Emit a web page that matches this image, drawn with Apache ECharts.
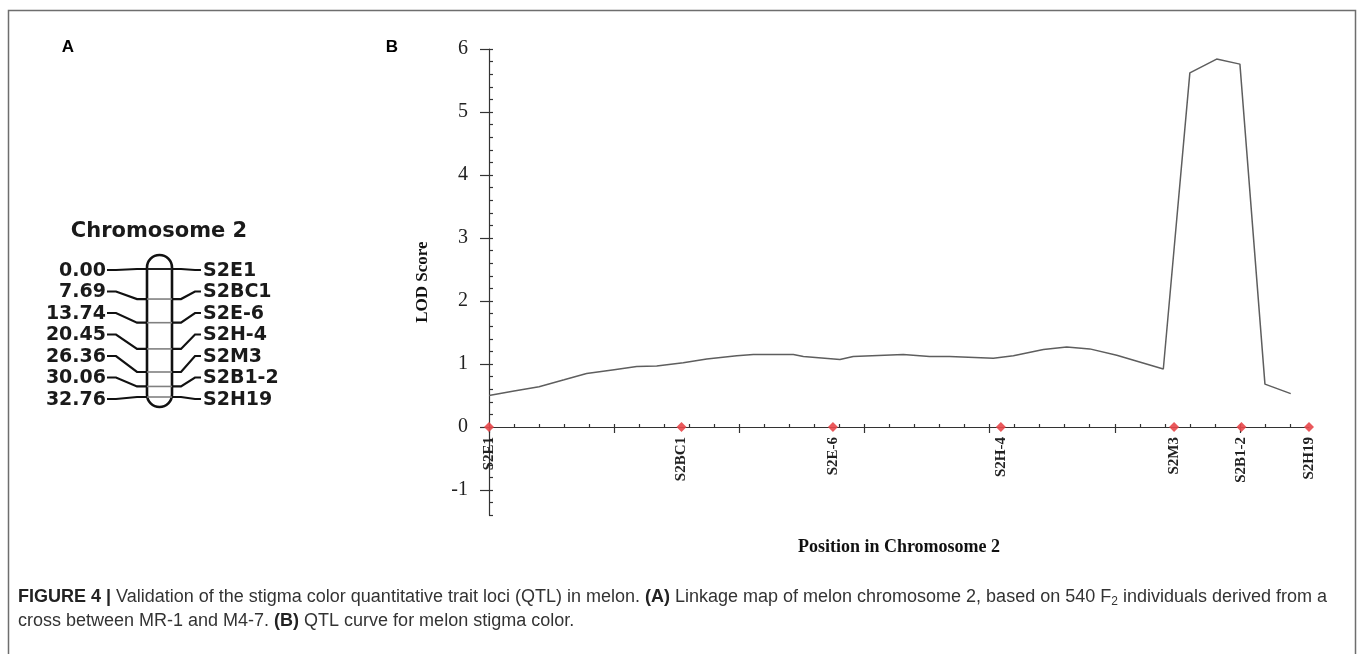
<!DOCTYPE html>
<html><head><meta charset="utf-8">
<script src="https://cdn.jsdelivr.net/npm/echarts@6/dist/echarts.min.js"></script>
<style>html,body{margin:0;padding:0;background:#fff}#c{width:1358px;height:654px}</style>
</head><body><div id="c"></div>
<script>
// ---- data ----
const markerNames = ['S2E1', 'S2BC1', 'S2E-6', 'S2H-4', 'S2M3', 'S2B1-2', 'S2H19'];
const mapPositions = [0.00, 7.69, 13.74, 20.45, 26.36, 30.06, 32.76];       // panel A (cM)
const qtlMarkerPositions = [0, 7.69, 13.74, 20.45, 27.37, 30.06, 32.76];    // panel B marker diamonds (cM)
const lodPositions = [0, 1.0, 2.0, 3.0, 3.9, 5.0, 5.9, 6.7, 7.76, 8.7, 9.9, 10.56, 12.16, 12.56, 14.02, 14.55, 16.55, 17.6, 18.4, 20.15, 20.95, 22.15, 23.08, 24.0, 25.08, 26.94, 28.0, 29.07, 30.0, 31.0, 32.03];
const lodScores    = [0.50, 0.57, 0.64, 0.75, 0.85, 0.91, 0.96, 0.97, 1.02, 1.08, 1.13, 1.15, 1.15, 1.12, 1.07, 1.12, 1.15, 1.12, 1.12, 1.09, 1.13, 1.23, 1.27, 1.24, 1.14, 0.92, 5.62, 5.84, 5.76, 0.68, 0.53];
const yMajorTicks = [-1, 0, 1, 2, 3, 4, 5, 6];
const xMajorTicks = [0, 5, 10, 15, 20, 25, 30];
const yMinorTicks = [];
for (let v = -14; v <= 60; v += 2) yMinorTicks.push(v / 10);
const xMinorTicks = [];
for (let v = 0; v <= 32; v++) xMinorTicks.push(v);

const chart = echarts.init(document.getElementById('c'), null, {renderer: 'canvas'});
const serif = "'Liberation Serif', 'Times New Roman', serif";
const sans = "'Liberation Sans', Arial, sans-serif";
const mapFont = "'DejaVu Sans', Verdana, sans-serif";
const LABEL_TOP = 270, LABEL_STEP = 21.5;

function nameAt(v) {
  const i = qtlMarkerPositions.findIndex(p => Math.abs(p - v) < 1e-6);
  return i >= 0 ? markerNames[i] : '';
}

const option = {
  animation: false,
  backgroundColor: '#ffffff',
  grid: [
    {left: 489, right: 49, top: 49, bottom: 138.8},
    {left: 147, width: 25, top: 269, height: 128},
    {left: 489, right: 49, top: 49, bottom: 227}
  ],
  xAxis: [
    {
      gridIndex: 0, type: 'value', min: 0, max: 32.76,
      axisLine: {onZero: true, lineStyle: {color: '#333', width: 1.2}},
      axisTick: {customValues: xMajorTicks, length: 6, lineStyle: {color: '#333', width: 1.2}},
      axisLabel: {show: false},
      splitLine: {show: false}
    },
    {
      gridIndex: 0, type: 'value', min: 0, max: 32.76,
      axisLine: {show: false, onZero: true},
      axisTick: {customValues: xMinorTicks, length: 3, lineStyle: {color: '#333', width: 1.2}},
      axisLabel: {show: false}, splitLine: {show: false}
    },
    {gridIndex: 1, type: 'value', min: 0, max: 1, show: false},
    {
      gridIndex: 2, type: 'value', min: 0, max: 32.76,
      name: 'Position in Chromosome 2', nameLocation: 'middle', nameGap: 111,
      nameTextStyle: {fontFamily: serif, fontWeight: 'bold', fontSize: 18, color: '#111'},
      axisLine: {show: false}, axisTick: {show: false},
      axisLabel: {customValues: qtlMarkerPositions, formatter: v => nameAt(v), rotate: 90, margin: 10,
        fontFamily: serif, fontWeight: 'bold', fontSize: 15, color: '#222'},
      splitLine: {show: false}
    }
  ],
  yAxis: [
    {
      gridIndex: 0, type: 'value', min: -1.4, max: 6,
      name: 'LOD Score', nameLocation: 'middle', nameGap: 58, nameRotate: 90,
      nameTextStyle: {fontFamily: serif, fontWeight: 'bold', fontSize: 17, color: '#111'},
      axisLine: {show: true, onZero: true, lineStyle: {color: '#333', width: 1.2}},
      axisTick: {show: true, customValues: yMajorTicks, length: 9, lineStyle: {color: '#333', width: 1.2}},
      axisLabel: {customValues: yMajorTicks, margin: 21, fontFamily: serif, fontSize: 20, color: '#222'},
      splitLine: {show: false}
    },
    {
      gridIndex: 0, type: 'value', min: -1.4, max: 6,
      axisLine: {show: false, onZero: true},
      axisTick: {show: true, customValues: yMinorTicks, length: 4, lineStyle: {color: '#333', width: 1.2}},
      axisLabel: {show: false}, splitLine: {show: false}
    },
    {gridIndex: 1, type: 'value', min: 0, max: 32.76, inverse: true, show: false},
    {gridIndex: 2, type: 'value', min: 0, max: 1, show: false}
  ],
  series: [
    {
      type: 'line', xAxisIndex: 0, yAxisIndex: 0,
      data: lodPositions.map((p, i) => [p, lodScores[i]]),
      showSymbol: false, smooth: false,
      lineStyle: {color: '#5e5e5e', width: 1.5}, z: 3
    },
    {
      type: 'scatter', xAxisIndex: 0, yAxisIndex: 0,
      data: qtlMarkerPositions.map(p => [p, 0]),
      symbol: 'diamond', symbolSize: 10,
      itemStyle: {color: '#e8474a', opacity: 0.9}, z: 4
    },
    {
      type: 'custom', xAxisIndex: 2, yAxisIndex: 2,
      data: mapPositions.map((p, i) => [p, i]),
      renderItem: function (params, api) {
        const i = params.dataIndex;
        const pos = api.value(0);
        const pl = api.coord([0, pos]);
        const pr = api.coord([1, pos]);
        const xl = pl[0], xr = pr[0], my = pl[1];
        const ly = LABEL_TOP + i * LABEL_STEP;
        const children = [];
        if (i === 0) {
          const top = api.coord([0, mapPositions[0]])[1] - 14;
          const bot = api.coord([0, mapPositions[mapPositions.length - 1]])[1] + 10;
          children.push({type: 'rect', shape: {x: xl, y: top, width: xr - xl, height: bot - top, r: 12.5},
            style: {fill: 'none', stroke: '#111', lineWidth: 2.6}});
        }
        children.push({type: 'line', shape: {x1: xl, y1: my, x2: xr, y2: my},
          style: {stroke: i === 0 ? '#222' : '#808080', lineWidth: i === 0 ? 2 : 1.6}});
        children.push({type: 'polyline', shape: {points: [[xl - 40, ly], [xl - 31, ly], [xl - 10, my], [xl, my]]},
          style: {fill: 'none', stroke: '#111', lineWidth: 2.2}});
        children.push({type: 'polyline', shape: {points: [[xr, my], [xr + 9, my], [xr + 23, ly], [xr + 29, ly]]},
          style: {fill: 'none', stroke: '#111', lineWidth: 2.2}});
        children.push({type: 'text', style: {x: xl - 41, y: ly + 1, text: pos.toFixed(2), align: 'right', verticalAlign: 'middle',
          fontFamily: mapFont, fontWeight: 'bold', fontSize: 19, fill: '#1a1a1a'}});
        children.push({type: 'text', style: {x: xr + 31, y: ly + 1, text: markerNames[i], align: 'left', verticalAlign: 'middle',
          fontFamily: mapFont, fontWeight: 'bold', fontSize: 19, fill: '#1a1a1a'}});
        return {type: 'group', children: children};
      },
      z: 5
    }
  ],
  graphic: [
    {type: 'rect', shape: {x: 8.5, y: 10.5, width: 1347, height: 700}, style: {fill: 'none', stroke: '#6e6e6e', lineWidth: 1.5}, z: 100},
    {type: 'text', style: {x: 68, y: 47, text: 'A', align: 'center', verticalAlign: 'middle', fontFamily: sans, fontWeight: 'bold', fontSize: 17, fill: '#000'}},
    {type: 'text', style: {x: 392, y: 47, text: 'B', align: 'center', verticalAlign: 'middle', fontFamily: sans, fontWeight: 'bold', fontSize: 17, fill: '#000'}},
    {type: 'text', style: {x: 159, y: 232, text: 'Chromosome 2', align: 'center', verticalAlign: 'middle', fontFamily: mapFont, fontWeight: 'bold', fontSize: 21, fill: '#1a1a1a'}},
    {type: 'text', style: {x: 18, y: 597, verticalAlign: 'middle',
      text: '{b|FIGURE 4 |} Validation of the stigma color quantitative trait loci (QTL) in melon. {b|(A)} Linkage map of melon chromosome 2, based on 540 F{s|2} individuals derived from a',
      fontFamily: sans, fontSize: 18, fill: '#333',
      rich: {b: {fontFamily: sans, fontWeight: 'bold', fontSize: 18, fill: '#222'},
             s: {fontFamily: sans, fontSize: 12, fill: '#333', padding: [10, 0, 0, 0]}}}},
    {type: 'text', style: {x: 18, y: 621, verticalAlign: 'middle',
      text: 'cross between MR-1 and M4-7. {b|(B)} QTL curve for melon stigma color.',
      fontFamily: sans, fontSize: 18, fill: '#333',
      rich: {b: {fontFamily: sans, fontWeight: 'bold', fontSize: 18, fill: '#222'}}}}
  ]
};
chart.setOption(option);
</script>
</body></html>
